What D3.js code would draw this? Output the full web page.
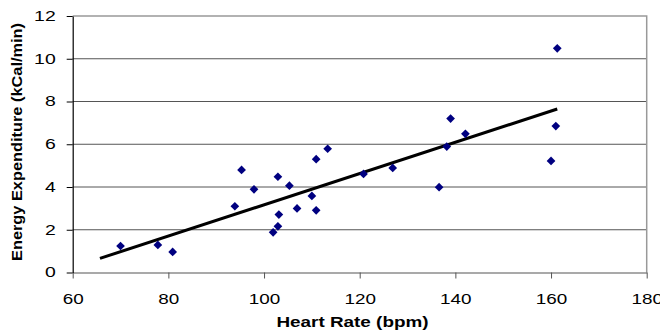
<!DOCTYPE html>
<html>
<head>
<meta charset="utf-8">
<script src="https://cdn.jsdelivr.net/npm/d3@7"></script>
<style>
  body { margin: 0; background: #fff; }
  text { font-family: "Liberation Sans", Arial, sans-serif; }
</style>
</head>
<body>
<div id="chart"></div>
<script>
// data
const heartRate = [70, 77.8, 80.9, 93.9, 95.3, 97.9, 102.9, 105.3, 103.1, 102.9, 101.9, 106.9,
    110.0, 110.9, 110.9, 113.3, 120.8, 126.9, 136.6, 138.2, 139.0, 142.1, 160.0, 161.0, 161.3];
const energy = [1.24, 1.29, 0.96, 3.10, 4.80, 3.89, 4.48, 4.06, 2.71, 2.16, 1.88, 3.0,
    3.58, 2.91, 5.30, 5.79, 4.61, 4.89, 3.99, 5.89, 7.20, 6.49, 5.22, 6.85, 10.49];
// trendline end points
const trendX = [65.7, 161.3];
const trendY = [0.66, 7.65];
const xTicks = [60, 80, 100, 120, 140, 160, 180];
const yTicks = [0, 2, 4, 6, 8, 10, 12];

const margin = { top: 16, right: 13.3, bottom: 60.5, left: 72.7 },
    width = 660 - margin.left - margin.right,
    height = 333 - margin.top - margin.bottom;

const svg = d3.select("#chart")
    .append("svg")
    .attr("width", 660)
    .attr("height", 333)
    .append("g")
    .attr("transform", `translate(${margin.left},${margin.top})`);

const x = d3.scaleLinear().domain([60, 180]).range([0, width]);
const y = d3.scaleLinear().domain([0, 12]).range([height, 0]);

// gridlines
svg.selectAll(".grid")
    .data(yTicks.filter(d => d > 0 && d < 12))
    .join("line")
    .attr("x1", 0).attr("x2", width)
    .attr("y1", d => y(d)).attr("y2", d => y(d))
    .attr("stroke", "#555").attr("stroke-width", 1);

// plot border top / right
svg.append("path")
    .attr("d", `M0,${y(12)}H${width}V${height}`)
    .attr("fill", "none").attr("stroke", "#999").attr("stroke-width", 1.5);

// X axis
const xAxis = svg.append("g")
    .attr("transform", `translate(0,${height})`)
    .call(d3.axisBottom(x).tickValues(xTicks).tickSize(6).tickPadding(16).tickSizeOuter(0));
xAxis.select(".domain").attr("stroke", "#555").attr("stroke-width", 1.2);
xAxis.selectAll(".tick line").attr("stroke", "#555");
xAxis.selectAll("text")
    .attr("font-size", 14).attr("fill", "#000")
    .attr("textLength", d => String(d).length * 10.5)
    .attr("lengthAdjust", "spacingAndGlyphs");

// Y axis
const yAxis = svg.append("g")
    .call(d3.axisLeft(y).tickValues(yTicks).tickSize(6).tickPadding(11).tickSizeOuter(0));
yAxis.select(".domain").attr("stroke", "#000").attr("stroke-width", 1.2);
yAxis.selectAll(".tick line").attr("stroke", "#000");
yAxis.selectAll("text")
    .attr("font-size", 14).attr("fill", "#000")
    .attr("textLength", d => String(d).length * 10.8)
    .attr("lengthAdjust", "spacingAndGlyphs");

// trendline
svg.append("line")
    .attr("x1", x(trendX[0])).attr("y1", y(trendY[0]))
    .attr("x2", x(trendX[1])).attr("y2", y(trendY[1]))
    .attr("stroke", "#000").attr("stroke-width", 3);

// points
svg.selectAll(".pt")
    .data(heartRate.map((d, i) => [d, energy[i]]))
    .join("path")
    .attr("d", d3.symbol().type(d3.symbolSquare).size(38))
    .attr("transform", d => `translate(${x(d[0])},${y(d[1])}) rotate(45)`)
    .attr("fill", "#000080");

// axis titles
svg.append("text")
    .attr("x", 352.5 - margin.left)
    .attr("y", 327.3 - margin.top)
    .attr("text-anchor", "middle")
    .attr("font-size", 14).attr("font-weight", "bold")
    .attr("textLength", 152).attr("lengthAdjust", "spacingAndGlyphs")
    .text("Heart Rate (bpm)");

svg.append("text")
    .attr("transform", `translate(${22.5 - margin.left},${142 - margin.top}) rotate(-90)`)
    .attr("text-anchor", "middle")
    .attr("font-size", 14).attr("font-weight", "bold")
    .attr("textLength", 238).attr("lengthAdjust", "spacingAndGlyphs")
    .text("Energy Expenditure (kCal/min)");
</script>
</body>
</html>
